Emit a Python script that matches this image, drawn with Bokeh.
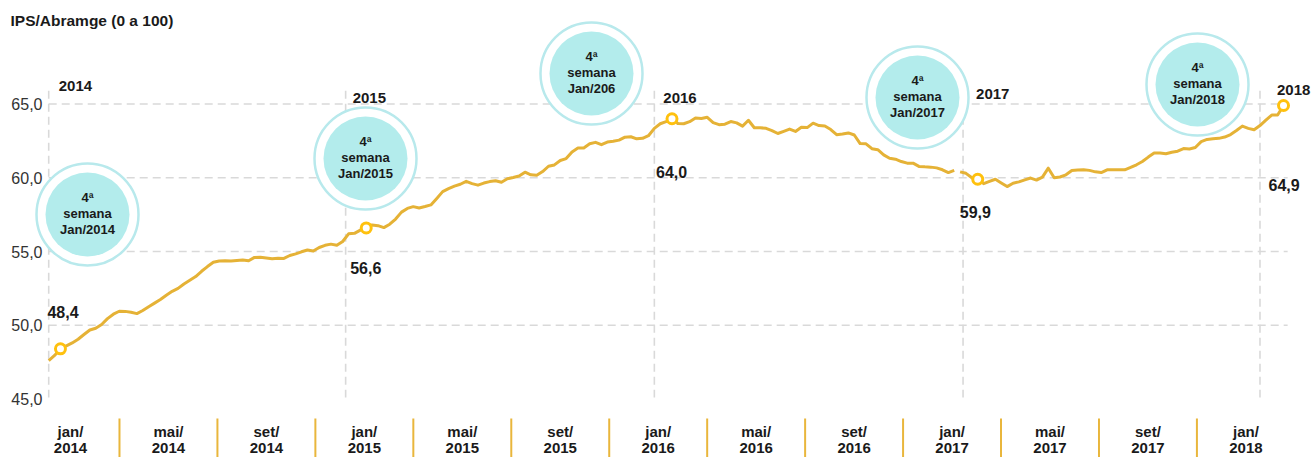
from bokeh.plotting import figure
from bokeh.models import Range1d
from bokeh.core.properties import value
from bokeh.embed import file_html
from bokeh.resources import INLINE

# ---------------- data ----------------
title_text = "IPS/Abramge (0 a 100)"

# weekly index values, weeks 0..154 (jan/2014 .. dec/2016)
values_a = [
    47.6, 47.95, 48.4, 48.6, 48.8, 49.05, 49.37, 49.68, 49.8, 50.05,
    50.45, 50.75, 50.95, 50.94, 50.88, 50.79, 51.0, 51.26, 51.5, 51.74,
    52.03, 52.3, 52.5, 52.8, 53.05, 53.3, 53.66, 53.98, 54.27, 54.36,
    54.38, 54.35, 54.39, 54.42, 54.37, 54.6, 54.61, 54.56, 54.51, 54.55,
    54.53, 54.73, 54.84, 54.98, 55.1, 55.03, 55.27, 55.42, 55.5, 55.42,
    55.68, 56.2, 56.23, 56.45, 56.6, 56.8, 56.75, 56.62, 56.85, 57.2,
    57.67, 57.92, 58.04, 57.95, 58.05, 58.16, 58.6, 59.06, 59.26, 59.43,
    59.56, 59.76, 59.6, 59.5, 59.64, 59.74, 59.8, 59.7, 59.93, 60.02,
    60.12, 60.38, 60.2, 60.17, 60.42, 60.78, 60.87, 61.17, 61.3, 61.75,
    62.01, 62.02, 62.3, 62.4, 62.24, 62.42, 62.47, 62.55, 62.75, 62.78,
    62.64, 62.67, 62.85, 63.35, 63.66, 63.8, 64.0, 63.68, 63.66, 63.8,
    64.05, 64.02, 64.1, 63.74, 63.6, 63.63, 63.81, 63.72, 63.5, 63.9,
    63.39, 63.39, 63.35, 63.2, 63.0, 63.15, 63.3, 63.14, 63.42, 63.4,
    63.7, 63.54, 63.51, 63.27, 62.92, 62.96, 63.04, 62.9, 62.32, 62.3,
    61.97, 61.9, 61.55, 61.32, 61.26, 61.1, 60.99, 60.99, 60.77, 60.74,
    60.72, 60.67, 60.54, 60.35, 60.5,
]
# weekly index values, weeks 155..210 (2017 .. jan/2018), drawn after a break
values_b = [
    60.4, 60.3, 60.0, 59.9, 59.6, 59.75, 59.9, 59.65, 59.4, 59.63,
    59.72, 59.86, 59.98, 59.84, 60.04, 60.65, 60.0, 60.05, 60.2, 60.49,
    60.52, 60.55, 60.5, 60.4, 60.35, 60.54, 60.54, 60.54, 60.54, 60.7,
    60.88, 61.1, 61.4, 61.68, 61.68, 61.63, 61.73, 61.8, 61.98, 61.95,
    62.05, 62.45, 62.6, 62.64, 62.67, 62.76, 62.93, 63.2, 63.5, 63.35,
    63.25, 63.54, 63.9, 64.25, 64.25, 64.9,
]

highlight_weeks = [2, 54, 106, 158, 210]
highlight_labels = ["48,4", "56,6", "64,0", "59,9", "64,9"]

year_labels = ["2014", "2015", "2016", "2017", "2018"]
year_start_weeks = [0, 50.5, 103, 155.5, 206]

bubble_line1 = ["4ª", "4ª", "4ª", "4ª", "4ª"]
bubble_line2 = ["semana", "semana", "semana", "semana", "semana"]
bubble_line3 = ["Jan/2014", "Jan/2015", "Jan/206", "Jan/2017", "Jan/2018"]

y_ticks = [45, 50, 55, 60, 65]
y_tick_labels = ["45,0", "50,0", "55,0", "60,0", "65,0"]
grid_values = [50, 55, 60, 65]

band_months = ["jan/", "mai/", "set/", "jan/", "mai/", "set/", "jan/",
               "mai/", "set/", "jan/", "mai/", "set/", "jan/"]
band_years = ["2014", "2014", "2014", "2015", "2015", "2015", "2016",
              "2016", "2016", "2017", "2017", "2017", "2018"]

# ---------------- layout / style ----------------
W, H = 1312, 457
FONT = value("Liberation Sans")
TXT = "#1a1a1a"
LINE_C = "#E5B236"
MARK_C = "#FFC10E"
GRID_C = "#D9D9D9"
BUB_FILL = "#B3ECEC"
BUB_RING = "#B8E9EC"
SEP_C = "#E9B63C"

weeks_a = list(range(len(values_a)))
weeks_b = [len(values_a) + i for i in range(len(values_b))]
all_values = values_a + values_b
highlight_values = [all_values[w] for w in highlight_weeks]

p = figure(width=W, height=H, output_backend="svg", toolbar_location=None,
           x_range=Range1d(-8.197, 214.93), y_range=Range1d(41.034, 72.017),
           x_axis_location=None, y_axis_location=None, min_border=0,
           outline_line_color=None, background_fill_color="white",
           border_fill_color="white")
p.grid.visible = False
p.extra_x_ranges = {"px": Range1d(0, W), "band": Range1d(-0.7147, 12.68)}
p.extra_y_ranges = {"px": Range1d(H, 0)}

# horizontal dashed grid
n = len(grid_values)
p.segment(x0=[0] * n, y0=grid_values, x1=[210.7] * n, y1=grid_values,
          line_color=GRID_C, line_width=1.6, line_dash="8 5")
# vertical dashed year lines
m = len(year_start_weeks)
p.segment(x0=year_start_weeks, y0=[65.9] * m, x1=year_start_weeks, y1=[45.1] * m,
          line_color=GRID_C, line_width=1.6, line_dash="8 5")

# bubbles
bub_x = [87, 365, 591, 917, 1197]
bub_y = [214, 158, 73, 97, 84]
p.scatter(x=bub_x, y=bub_y, x_range_name="px", y_range_name="px", size=102,
          fill_color="white", line_color=BUB_RING, line_width=2.5)
p.scatter(x=bub_x, y=bub_y, x_range_name="px", y_range_name="px", size=84,
          fill_color=BUB_FILL, line_color=None)
for txt, off in ((bubble_line1, -17), (bubble_line2, -1), (bubble_line3, 15)):
    p.text(x=bub_x, y=bub_y, text=txt, x_range_name="px", y_range_name="px",
           y_offset=off, text_align="center", text_baseline="middle",
           text_font=FONT, text_font_style="bold", text_font_size="13px",
           text_color=TXT)

# series line (with a break at the turn of 2016/2017)
p.line(weeks_a, values_a, line_color=LINE_C, line_width=3, line_join="round")
p.line(weeks_b, values_b, line_color=LINE_C, line_width=3, line_join="round")

# highlighted points
p.scatter(x=highlight_weeks, y=highlight_values, size=10, fill_color="white",
          line_color=MARK_C, line_width=3)

# value labels
label_y = [50.93, 53.85, 60.36, 57.71, 59.54]
label_dx = [-13, -16, -16, -18, -15]
p.text(x=highlight_weeks, y=label_y, text=highlight_labels, x_offset=label_dx,
       text_align="left", text_baseline="middle", text_font=FONT,
       text_font_style="bold", text_font_size="16px", text_color=TXT)

# year labels
year_y = [66.19, 65.44, 65.44, 65.71, 65.98]
year_dx = [10, 7, 9, 13, 17]
p.text(x=year_start_weeks, y=year_y, text=year_labels, x_offset=year_dx,
       text_align="left", text_baseline="middle", text_font=FONT,
       text_font_style="bold", text_font_size="15px", text_color=TXT)

# y tick labels
p.text(x=[42] * len(y_ticks), y=y_ticks, text=y_tick_labels, x_range_name="px",
       text_align="right", text_baseline="middle", text_font=FONT,
       text_font_size="16px", text_color="#333333")

# title
p.text(x=[10], y=[20], text=[title_text], x_range_name="px", y_range_name="px",
       text_align="left", text_baseline="middle", text_font=FONT,
       text_font_style="bold", text_font_size="15.5px", text_color=TXT)

# bottom month band
band_idx = list(range(len(band_months)))
seps = [i + 0.5 for i in band_idx[:-1]]
p.segment(x0=seps, y0=[418] * len(seps), x1=seps, y1=[457] * len(seps),
          x_range_name="band", y_range_name="px", line_color=SEP_C, line_width=2)
p.text(x=band_idx, y=[431] * len(band_idx), text=band_months,
       x_range_name="band", y_range_name="px", text_align="center",
       text_baseline="middle", text_font=FONT, text_font_style="bold",
       text_font_size="15px", text_color=TXT)
p.text(x=band_idx, y=[447] * len(band_idx), text=band_years,
       x_range_name="band", y_range_name="px", text_align="center",
       text_baseline="middle", text_font=FONT, text_font_style="bold",
       text_font_size="15px", text_color=TXT)

open("out.html", "w").write(file_html(p, INLINE))
